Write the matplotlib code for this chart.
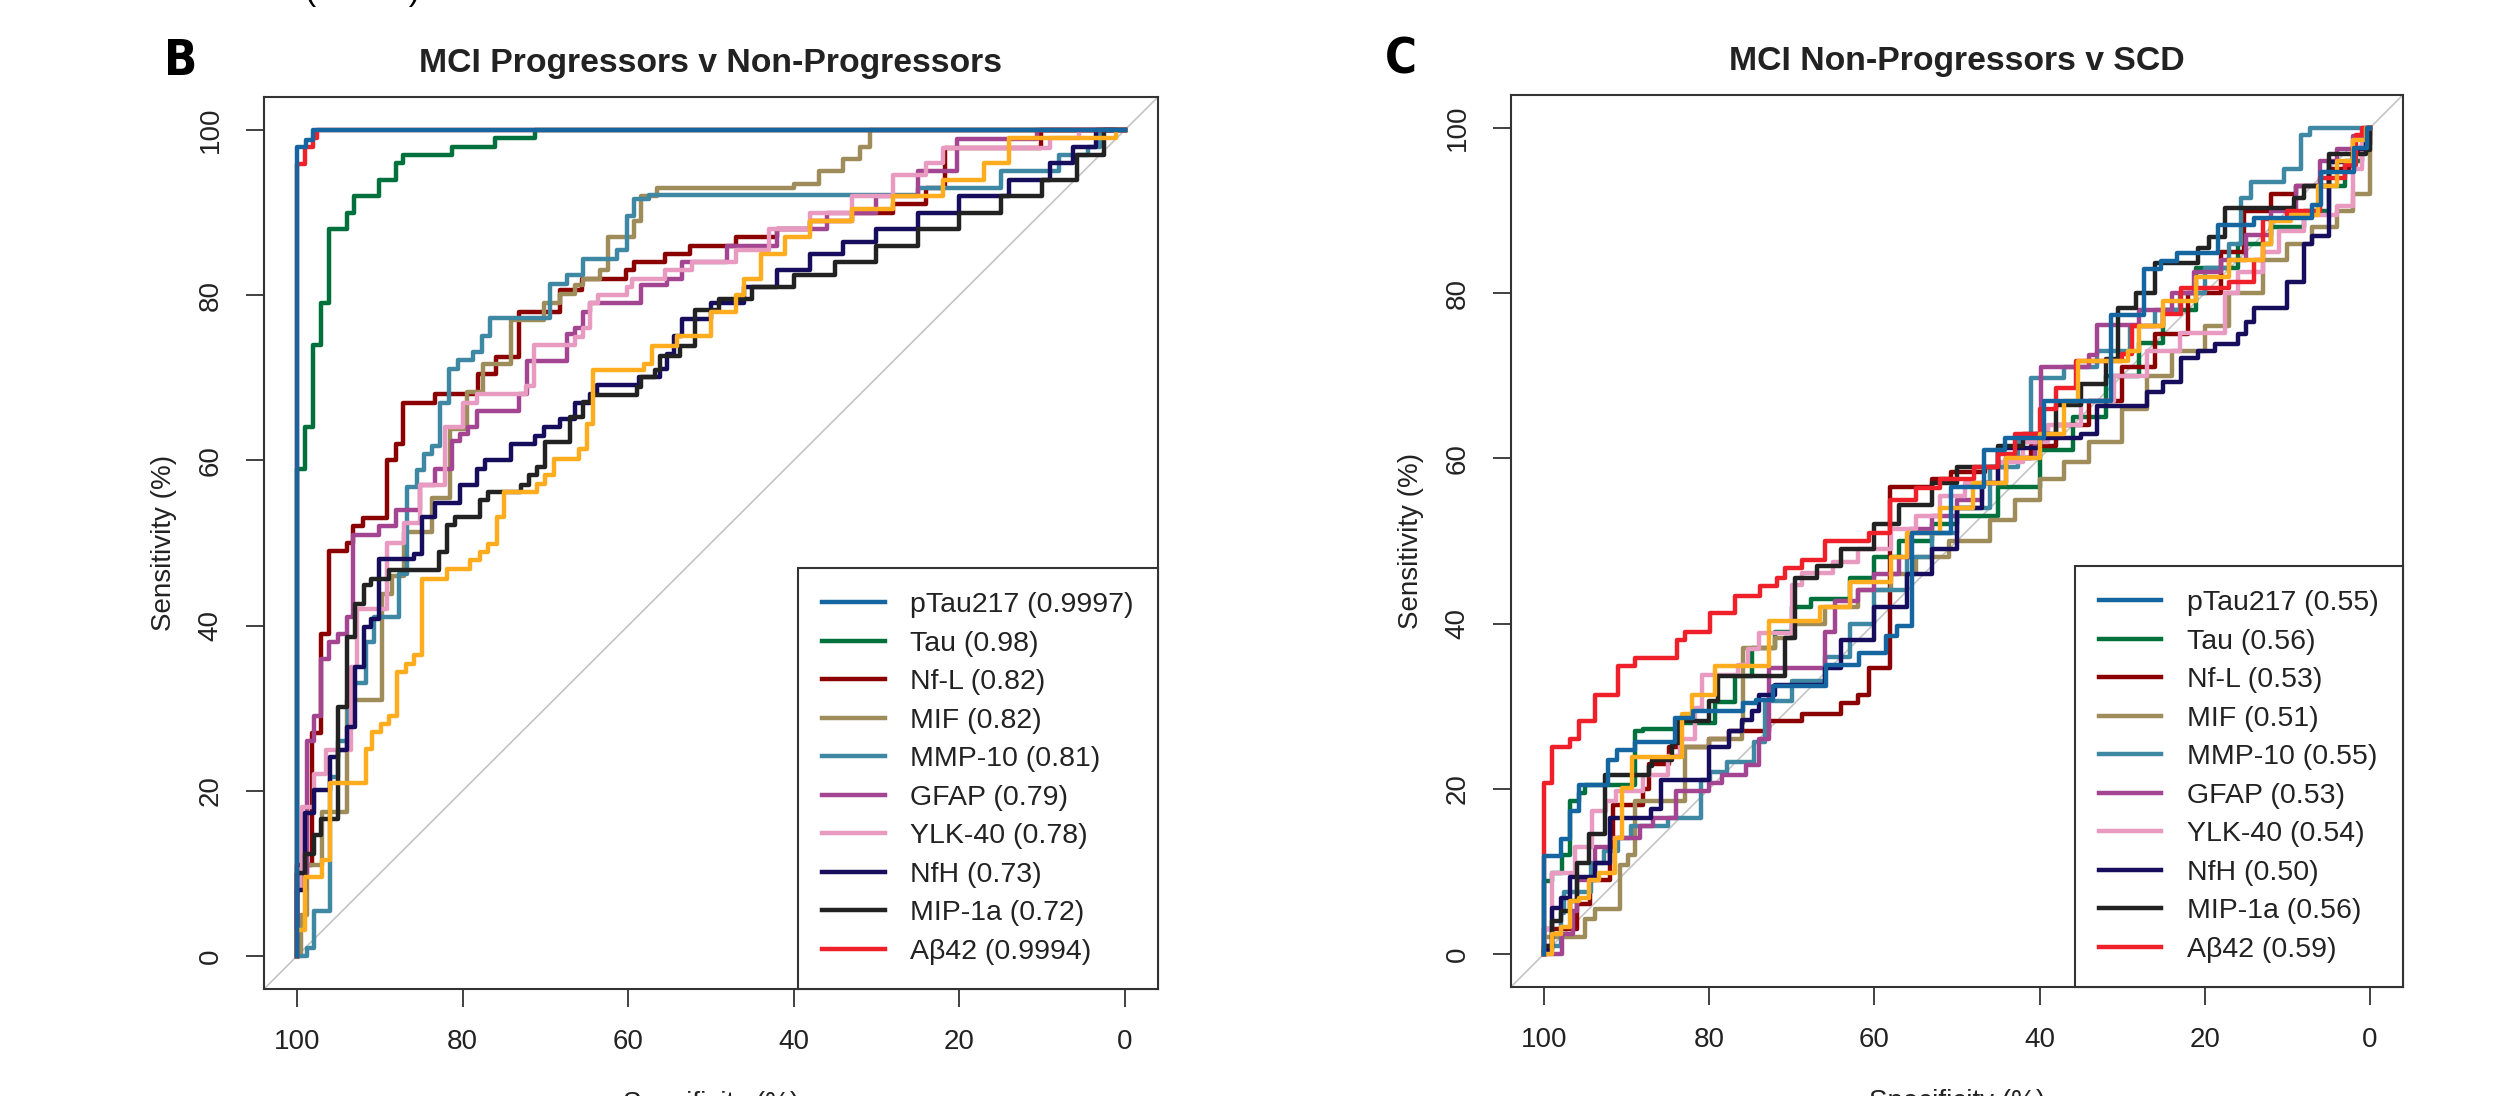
import matplotlib
matplotlib.use("Agg")
import matplotlib.pyplot as plt
from matplotlib.lines import Line2D

plt.rcParams['font.family'] = ['Liberation Sans', 'DejaVu Sans']

# marker names, colours and AUC labels (legend order)
markers = ['pTau217', 'Tau', 'Nf-L', 'MIF', 'MMP-10', 'GFAP', 'YLK-40', 'NfH', 'MIP-1a', 'A\u03b242']
colors = ['#1565a0', '#00703c', '#8b0000', '#9e8c5a', '#3f88a3', '#a34590', '#e89ac0', '#160d5c', '#222222', '#f0202a']
extra_color = '#ffad1f'   # extra curve drawn without a legend entry
b_auc = ['0.9997', '0.98', '0.82', '0.82', '0.81', '0.79', '0.78', '0.73', '0.72', '0.9994']
c_auc = ['0.55', '0.56', '0.53', '0.51', '0.55', '0.53', '0.54', '0.50', '0.56', '0.59']

# ROC curves as (specificity, sensitivity) steps: at each specificity the sensitivity jumps up
# --- panel B: MCI Progressors v Non-Progressors ---
b_ptau217 = [(100, 0), (100, 97.9), (98.9, 98.8), (98.1, 100), (0, 100)]
b_tau = [(100, 0), (100, 59), (99, 64), (98.1, 74), (97.1, 79), (96.1, 88), (94, 90), (93.1, 92), (90.1, 94),
         (88, 96), (87.2, 97), (81.3, 98), (76.1, 99), (71.2, 100), (0, 100)]
b_nfl = [(100, 0), (100, 11), (98.2, 27), (97.1, 39), (96.1, 49), (94, 50), (93.2, 52), (92, 53), (89.1, 60),
         (88.1, 62), (87.2, 67), (83.3, 68), (78.1, 70.5), (76, 72.5), (73.2, 78), (68.2, 80.6), (65.6, 82),
         (60.3, 83), (59.3, 84), (55.5, 85), (52.5, 86), (47, 87), (42, 88), (38, 89), (33, 90), (28, 91),
         (24, 93), (21.7, 97.8), (10.1, 100), (0, 100)]
b_mif = [(100, 0), (99.5, 5), (98.8, 11), (97, 17.4), (94, 31), (89.7, 43.8), (88.5, 46), (87.1, 51.3),
         (83.7, 55.5), (81.5, 63.8), (79.5, 68.3), (77.5, 71.7), (74.2, 77), (70.2, 79), (68.2, 80.2),
         (66.4, 81.2), (65.4, 82), (63.4, 83), (62.4, 87), (59.3, 89), (58.5, 92), (56.5, 93), (40, 93.5),
         (37, 95), (34, 96.5), (32, 98), (30.8, 100), (0, 100)]
b_mmp10 = [(100, 0), (98.8, 1), (98, 5.4), (96, 21.7), (95, 26), (93.8, 33), (91.7, 38), (90.7, 41), (87.7, 46.3),
           (86.7, 56.8), (85.5, 58.8), (84.7, 60.8), (83.7, 61.8), (82.7, 66.9), (81.7, 71.1), (80.5, 72.1),
           (78.7, 73.1), (77.7, 75.1), (76.7, 77.3), (69.4, 81.4), (67.4, 82.4), (65.4, 84.4), (61.4, 85.5),
           (60.1, 89.6), (59.3, 91.7), (57.5, 92.1), (25, 93), (15, 95), (8, 97), (4.5, 98), (3, 100), (0, 100)]
b_gfap = [(100, 0), (100, 10), (98.8, 26), (98, 29), (97.1, 36), (96.1, 38), (95, 39), (94, 41), (93.2, 51),
          (90.1, 52), (88.1, 54), (85.1, 57), (83.3, 59), (81.3, 62.4), (80.3, 63.2), (79.3, 64), (78.3, 66),
          (73.2, 68), (72.2, 72), (67.4, 75.3), (66.4, 76), (65.4, 78), (64.6, 79), (58.5, 81.2), (55.3, 82),
          (53.5, 84), (48, 86), (42, 88), (36, 90), (30, 92), (25, 95), (20.3, 98.9), (10.6, 100), (0, 100)]
b_ylk40 = [(100, 0), (100, 8), (99.4, 18), (98, 22), (96.5, 25), (93.5, 35), (92.7, 42), (89.1, 50), (87.1, 52.4),
           (85.1, 57), (82.1, 64), (79.9, 67), (78.3, 68), (72.4, 69), (71.4, 74), (66.4, 75), (65.4, 76),
           (64.6, 79), (63.6, 80), (60.1, 81), (59.5, 82), (55.5, 83), (52.3, 84), (47, 85.5), (43, 88),
           (38, 90), (33, 92), (28, 94.5), (24, 96), (22, 97.8), (9, 99), (5.5, 100), (0, 100)]
b_nfh = [(100, 0), (100, 8), (99, 17.3), (98, 20.1), (96, 24.1), (95, 25), (94, 27.7), (93, 35), (91.9, 39.8),
         (91.1, 40.8), (90.1, 48.1), (85.9, 48.7), (84.9, 53.1), (83.3, 54.8), (80.3, 57), (78.3, 59),
         (77.3, 60), (74.2, 62), (71.2, 63), (70.2, 64), (68.2, 65), (66.4, 67), (64.6, 68.1), (63.8, 69.1),
         (58.7, 70.1), (56.1, 71.1), (55.3, 72.9), (54.5, 75.1), (53.5, 77.1), (50, 79), (46, 81), (42, 83),
         (38, 85), (34, 86.5), (30, 88), (25, 90), (20, 92), (14, 94), (9, 96), (6.3, 98), (3.5, 100), (0, 100)]
b_mip1a = [(100, 0), (100, 10), (99, 12.4), (98, 14.6), (97.1, 16.6), (95, 30.1), (94, 38.6), (93, 42.6),
           (91.9, 44.9), (91.1, 45.7), (88.9, 46.7), (82.9, 48.9), (81.9, 52.2), (80.9, 53.2), (77.9, 55.2),
           (76.9, 56.2), (73, 57), (72, 58.2), (71, 59.2), (70, 62.2), (67, 65.3), (65.4, 67.1), (64.4, 67.9),
           (58.9, 68.9), (58.5, 70.1), (56.7, 70.9), (56.1, 72.7), (53.7, 73.9), (51.9, 78.2), (49, 79.5),
           (45, 81), (40, 82.5), (35, 84), (30, 86), (25, 88), (20, 90), (15, 92), (10, 94), (5.8, 97),
           (2.5, 100), (0, 100)]
b_ab42 = [(100, 0), (100, 95.9), (99, 98), (98.1, 99), (97.6, 100), (0, 100)]
b_extra = [(100, 0), (100, 3.1), (99, 9.6), (97, 11.6), (96, 20.9), (91.7, 25.1), (90.9, 27.1), (89.9, 28.1),
           (88.9, 29.1), (87.9, 34.4), (86.9, 35.4), (85.9, 36.4), (84.9, 45.7), (81.9, 46.9), (79.1, 47.9),
           (77.9, 48.9), (76.9, 49.9), (75.8, 53.2), (75, 56.2), (71, 57.2), (70, 58.2), (69, 60.2), (66, 61.4),
           (65, 64.4), (64.2, 70.9), (58.1, 71.7), (57.1, 73.9), (54.1, 75.1), (50, 78), (47, 80), (46, 82),
           (44, 85), (41, 87), (38, 89), (33, 90.5), (28, 92), (22, 94), (17, 96), (14, 99), (1.1, 100), (0, 100)]

# --- panel C: MCI Non-Progressors v SCD ---
c_ptau217 = [(100, 0), (100, 11.9), (98, 13.9), (96.8, 17.3), (95.8, 20.5), (92.2, 23.5), (91.2, 24.7), (89, 25.7),
             (84.1, 28.6), (81.9, 29.4), (75.9, 30.4), (74.3, 30.8), (72.3, 32.4), (65.8, 35), (61.8, 36.4),
             (58.6, 38.5), (57.2, 39.7), (55.5, 51), (50.7, 56.5), (46.7, 61), (44.2, 62.5), (39.4, 66.9),
             (31.3, 77.4), (27.3, 82.9), (25.3, 83.9), (23.3, 84.9), (18.4, 88.3), (14, 89.1), (7, 90.7),
             (5.9, 94.7), (1.9, 97.6), (0.3, 100), (0, 100)]
c_tau = [(100, 0), (100, 8.8), (99, 9.8), (97.8, 12), (96.8, 18.5), (95.8, 19.5), (95, 20.5), (89, 27), (88, 27.2),
         (84, 28), (79.3, 30.5), (76.9, 33.6), (74.8, 37), (72, 39), (70, 42), (67.7, 43), (63, 45.5), (60, 48),
         (57, 50), (53, 52), (50, 53), (45, 56.5), (40, 61), (36, 65), (32, 70), (28, 74), (25, 78), (21, 83),
         (16, 86), (12, 88), (8, 90), (5, 93), (3, 96), (1, 98), (0, 100)]
c_nfl = [(100, 0), (100, 3), (96, 6), (94.4, 9), (92, 13), (91.7, 18), (88, 20), (87.3, 23), (84.9, 25), (80, 26),
         (77.6, 27), (72.8, 28.2), (68.8, 29), (64, 30.4), (62, 31.4), (60.7, 34.6), (58.1, 56.5), (53, 57.5),
         (50.7, 58.4), (46.6, 59), (44, 60), (41, 61.5), (38, 64), (34, 67), (30, 71), (26, 75), (22, 80),
         (18, 85), (15.2, 90), (12, 92), (9, 93), (5, 95), (2, 97), (0.5, 100), (0, 100)]
c_mif = [(100, 0), (100, 2), (95, 4.2), (93.8, 5.4), (90.8, 10.8), (89.8, 12), (89, 18.5), (82.9, 25), (80, 26),
         (76, 28), (75.9, 37), (72, 38.3), (70, 40), (66, 42), (62, 44), (58, 46), (55, 48), (51, 50), (46, 52.5),
         (43, 55), (40, 57.5), (37, 59.5), (34, 62), (30, 66), (27, 70), (24, 73), (20, 76), (17, 80), (13, 84),
         (10, 86), (7, 88), (4, 90), (2, 92), (0, 100)]
c_mmp10 = [(100, 0), (100, 1), (98, 5), (97.6, 7.5), (94.3, 11), (92.7, 12.5), (91, 14), (89.5, 15.5), (85, 16.5),
           (81, 21), (79.9, 22), (77.9, 23.2), (74.6, 25.6), (73.3, 30.6), (70, 33), (66, 36), (63, 40), (60, 44),
           (56, 48), (53, 51), (50, 54), (46, 59), (42.6, 62), (41, 69.7), (37, 71), (33, 73), (29, 76), (26, 78),
           (23, 80), (20, 83), (17, 86), (15.6, 91.5), (14.4, 93.5), (10.4, 95), (8.4, 99.2), (7.2, 100), (0, 100)]
c_gfap = [(100, 0), (97.8, 2.4), (96.5, 5.2), (96, 9), (93.8, 13), (92, 14), (88.4, 15.5), (86.8, 16.5),
          (84, 19.7), (80, 20.7), (78.4, 21.7), (75.6, 22.9), (74, 26), (72.8, 34.6), (66, 39), (64.8, 42.7),
          (62, 44), (60, 46), (57, 48), (55.7, 51.5), (53, 53), (50, 55), (47, 57), (44, 60), (40.5, 63),
          (39.8, 71), (34, 72.5), (33, 76.2), (28, 78), (24, 80), (21.3, 82.6), (18, 84), (15, 87), (12, 90),
          (9, 93), (6, 96), (4, 97.5), (2, 99), (0, 100)]
c_ylk40 = [(100, 0), (100, 3), (99, 9.8), (96.2, 12.9), (94.2, 17.3), (92.5, 18.5), (91.3, 19.7), (88, 21.7),
           (85, 24), (83.5, 26), (81.7, 29.8), (80.9, 33.8), (76.5, 35), (75.3, 36.9), (74, 38.9), (70, 44.7),
           (68.8, 46.1), (65, 47.5), (62, 49), (58, 51.5), (55, 53), (52, 55.5), (49, 57), (45, 59.5), (42, 62),
           (39, 64), (35, 67), (31, 70), (27, 73), (23, 75.2), (17.6, 80), (16, 82.6), (13, 85), (11, 87.5),
           (8, 89.5), (4, 90.5), (2, 95), (1, 98), (0, 100)]
c_nfh = [(100, 0), (100, 0.5), (99, 5.6), (98, 6.8), (96.8, 9.3), (93.8, 11), (92, 16.5), (87, 17.5), (85.8, 21),
         (80, 25), (77.6, 27), (76, 28.3), (74.8, 29.4), (74, 31.4), (72, 32.6), (66, 34.6), (64, 38), (60, 42),
         (56, 46), (53, 49), (50, 54), (47, 57), (45, 61.3), (40, 62.5), (35, 63), (33, 66.3), (27, 68),
         (25, 69.3), (22.9, 72.2), (20.8, 73), (18.8, 73.8), (16, 75), (15, 76.5), (14, 78.2), (10, 81.4),
         (8, 85.9), (7, 86.9), (4.9, 95.9), (2, 97.5), (0.5, 100), (0, 100)]
c_mip1a = [(100, 0), (100, 1), (99, 4), (98, 5.2), (96.8, 6.4), (96, 11), (94.6, 14.5), (92.6, 21.7), (87.3, 22.7),
           (86.9, 23.5), (84.5, 25.5), (83.7, 28.2), (80, 30.6), (78.9, 33.6), (70.8, 38.3), (69.6, 45.5),
           (67, 47), (64, 49), (60, 52), (57, 54.4), (53, 57), (50, 59), (45, 61.5), (42, 63), (38, 66.5),
           (35, 69), (32, 72), (30.5, 78.2), (28.3, 80), (26, 83.6), (20.8, 85.5), (19.5, 86.8), (17.6, 90.3),
           (9.2, 91.5), (8, 93), (5, 96.8), (0.5, 97.3), (0, 100)]
c_ab42 = [(100, 0), (100, 20.7), (99, 25), (96.8, 26), (95.8, 28.2), (93.8, 31.4), (91, 34.8), (89, 35.8),
          (83.9, 38), (82.9, 39), (79.9, 41.3), (76.9, 43.3), (73.8, 44.5), (71.8, 45.5), (70.8, 46.7),
          (68.8, 47.7), (66, 50), (60.7, 51), (58.1, 55), (55, 56.4), (52, 57.5), (47.9, 59), (45, 60.5),
          (43, 63), (40, 66), (38, 68.5), (35.6, 71.8), (30, 72.6), (28.8, 76), (25, 77.5), (22.9, 80.6),
          (17, 81.4), (14, 84), (13, 89), (10, 89.9), (6.1, 93.9), (3, 95.5), (1.7, 99.2), (1, 100), (0, 100)]
c_extra = [(100, 0), (99, 2.4), (98, 3.2), (96.8, 6.4), (95.8, 6.8), (94.6, 8.9), (93.4, 9.8), (91.4, 14),
           (90.6, 20.1), (89.4, 23.8), (83.3, 29), (82.1, 31.4), (79.3, 34.8), (72.8, 40.3), (66.6, 42), (63, 45),
           (58, 48), (56, 51), (52, 54), (48, 57), (44, 60), (40, 63), (37, 67), (35.3, 71.8), (29.3, 73),
           (28, 76), (25, 79), (21, 82), (17, 84), (13, 86), (12, 88.7), (9.5, 89.5), (6.3, 93), (4, 96),
           (2, 98.5), (0.5, 100), (0, 100)]

b_curves = [b_ptau217, b_tau, b_nfl, b_mif, b_mmp10, b_gfap, b_ylk40, b_nfh, b_mip1a, b_ab42]
c_curves = [c_ptau217, c_tau, c_nfl, c_mif, c_mmp10, c_gfap, c_ylk40, c_nfh, c_mip1a, c_ab42]

TXT = '#222222'
AX = '#333333'


def roc_panel(ax, curves, extra, aucs, title):
    ax.axline((100, 0), (0, 100), color='#c4c4c4', lw=1.2, zorder=1)
    # draw order: the others, then the unlabelled curve, then pTau217 on top
    order = list(range(1, len(curves))) + ['extra', 0]
    for i in order:
        if i == 'extra':
            pts, col = extra, extra_color
        else:
            pts, col = curves[i], colors[i]
        spec = [p[0] for p in pts]
        sens = [p[1] for p in pts]
        ax.plot(spec, sens, drawstyle='steps-post', color=col, lw=3.2, zorder=2)

    ax.set_xlim(104, -4)
    ax.set_ylim(-4, 104)
    ax.set_xticks([100, 80, 60, 40, 20, 0])
    ax.set_yticks([0, 20, 40, 60, 80, 100])
    ax.tick_params(axis='both', length=13, width=1.3, color=AX, labelsize=20, labelcolor=TXT, pad=16)
    for lab in ax.get_yticklabels():
        lab.set_rotation(90)
        lab.set_va('center')
    for s in ax.spines.values():
        s.set_color(AX)
        s.set_linewidth(1.5)
    ax.set_title(title, fontsize=24.3, fontweight='bold', color=TXT, pad=18)
    ax.set_ylabel('Sensitivity (%)', fontsize=20, color=TXT, labelpad=15)
    ax.set_xlabel('Specificity (%)', fontsize=20, color=TXT, labelpad=26)

    handles = [Line2D([], [], color=c, lw=3.2) for c in colors]
    labels = [f'{m} ({a})' for m, a in zip(markers, aucs)]
    leg = ax.legend(handles, labels, loc='lower right', borderaxespad=0, fontsize=20.5,
                    frameon=True, fancybox=False, framealpha=1, edgecolor=AX,
                    handlelength=2.2, handletextpad=0.9, borderpad=0.85, labelspacing=0.44)
    leg.get_frame().set_linewidth(1.5)
    for t in leg.get_texts():
        t.set_color(TXT)


fig = plt.figure(figsize=(25.02, 10.96), dpi=100)
ax_b = fig.add_axes([0.1055, 0.0976, 0.3573, 0.8139])
ax_c = fig.add_axes([0.6039, 0.0995, 0.3565, 0.8139])

roc_panel(ax_b, b_curves, b_extra, b_auc, 'MCI Progressors v Non-Progressors')
roc_panel(ax_c, c_curves, c_extra, c_auc, 'MCI Non-Progressors v SCD')

# panel letters in a condensed bold face
letter_font = ['DejaVu Sans']
fig.text(0.0655, 1 - 75 / 1096, 'B', fontsize=35, fontweight='bold', fontstretch='condensed',
         family=letter_font, va='baseline')
fig.text(0.5536, 1 - 74 / 1096, 'C', fontsize=35, fontweight='bold', fontstretch='condensed',
         family=letter_font, va='baseline')
# bottom of a cut-off caption above the panels
fig.text(305 / 2502, 1.0, '(' + ' ' * 10 + ')', fontsize=24, va='baseline')

fig.savefig('out.png', dpi=100)
